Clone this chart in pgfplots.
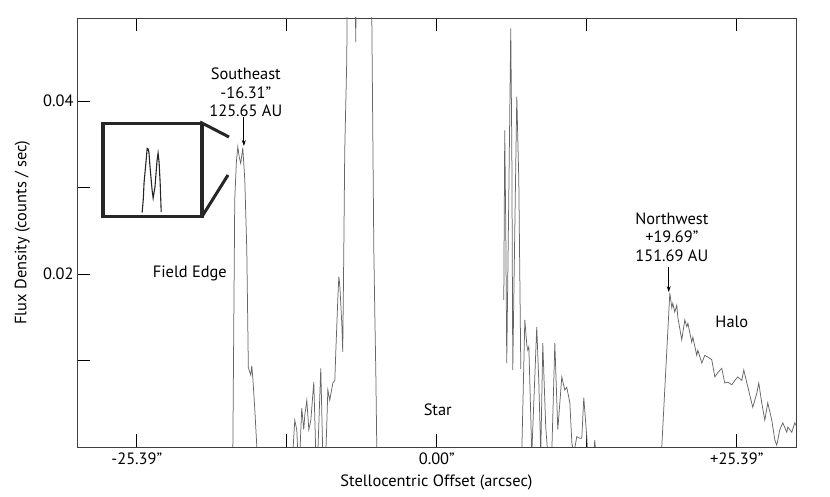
\documentclass[border=0pt]{standalone}
\usepackage{fontspec}
\setmainfont{PT Sans}
\usepackage{pgfplots}
\pgfplotsset{compat=1.18}
\usetikzlibrary{arrows.meta}

% radial flux profile through the disk
\pgfplotstableread{
x y
-30.45 -0.002
-17.30 -0.002
-17.26 0.0
-17.10 0.0286
-16.96 0.0330
-16.84 0.0347
-16.72 0.0335
-16.59 0.0328
-16.42 0.0346
-16.25 0.0309
-16.08 0.0228
-15.99 0.0135
-15.95 0.0092
-15.74 0.0083
-15.66 0.0094
-15.57 0.0080
-15.40 0.0043
-15.23 0.0
-15.20 -0.002
-12.25 -0.002
-12.19 -0.0008
-12.02 0.0031
-11.85 0.0020
-11.76 -0.0008
-11.59 -0.0008
-11.43 0.0045
-11.26 0.0020
-11.17 0.0037
-11.00 0.0054
-10.83 0.0020
-10.66 0.0031
-10.41 0.0075
-10.24 -0.0008
-10.07 -0.0008
-9.82 0.0091
-9.65 -0.0008
-9.39 -0.0008
-9.22 0.0066
-9.06 0.0054
-8.80 0.0074
-8.63 0.0077
-8.55 0.0109
-8.38 0.0170
-8.29 0.0197
-8.21 0.0187
-8.04 0.0143
-7.96 0.0110
-7.87 0.0228
-7.79 0.0343
-7.62 0.0447
-7.53 0.0600
-6.94 0.0600
-6.86 0.0468
-6.77 0.0600
-5.59 0.0600
-5.50 0.0496
-5.33 0.0228
-5.25 0.0158
-5.16 0.0086
-5.08 0.0
-5.00 -0.002
5.60 nan
5.67 0.0170
5.75 0.0366
5.84 0.0250
5.92 0.0097
6.09 0.0286
6.26 0.0484
6.35 0.0343
6.43 0.0089
6.60 0.0250
6.77 0.0405
6.94 0.0309
7.11 0.0090
7.13 nan
7.15 -0.002
7.19 -0.0008
7.45 0.0147
7.62 0.0118
7.70 0.0112
7.79 0.0116
8.04 -0.0008
8.46 0.0139
8.63 0.0077
8.80 -0.0008
8.97 0.0120
9.22 0.0023
9.39 -0.0008
9.73 -0.0008
9.99 0.0120
10.24 0.0020
10.58 0.0081
10.83 0.0066
11.00 0.0069
11.26 0.0051
11.43 0.0005
11.59 -0.0008
11.85 0.0012
12.10 0.0010
12.27 0.0010
12.44 0.0057
12.69 0.0012
12.78 -0.0008
13.29 -0.0008
13.37 0.0008
13.46 -0.0008
13.50 -0.002
19.00 -0.002
19.04 0.0
19.72 0.0178
19.89 0.0161
19.97 0.0166
20.14 0.0156
20.31 0.0164
20.40 0.0150
20.73 0.0124
20.99 0.0147
21.16 0.0139
21.25 0.0143
21.58 0.0121
21.67 0.0127
22.00 0.0106
22.09 0.0112
22.43 0.0097
22.68 0.0106
22.93 0.0104
23.27 0.0101
23.53 0.0081
23.78 0.0086
24.12 0.0091
24.37 0.0074
24.63 0.0075
24.97 0.0072
25.22 0.0077
25.47 0.0081
25.81 0.0077
25.98 0.0089
26.24 0.0074
26.49 0.0060
26.74 0.0046
27.08 0.0062
27.25 0.0074
27.50 0.0051
27.76 0.0031
28.01 0.0051
28.35 0.0031
28.61 0.0008
28.77 0.0002
29.03 0.0020
29.28 0.0028
29.62 0.0017
29.71 0.0023
30.04 0.0017
30.30 0.0028
30.40 0.0025
}\profile

% magnified southeast peak for the inset
\pgfplotstableread{
x y
-16.995 0.0250
-16.95 0.0270
-16.92 0.0295
-16.84 0.0329
-16.80 0.0347
-16.76 0.0346
-16.73 0.0340
-16.69 0.0319
-16.61 0.0284
-16.57 0.0272
-16.50 0.0289
-16.42 0.0329
-16.38 0.0340
-16.34 0.0325
-16.30 0.0295
-16.26 0.0251
}\insetpeak

\begin{document}
\begin{tikzpicture}[font=\fontsize{16.4}{18.5}\selectfont]
\path[use as bounding box] (-77pt,-50pt) rectangle (753pt,447pt);
\begin{axis}[
    at={(0pt,0pt)}, anchor=south west,
    scale only axis,
    width=719pt, height=429pt,
    xmin=-30.45, xmax=30.4,
    ymin=0, ymax=0.0496,
    xtick={-25.39,-12.695,0,12.695,25.39},
    xticklabels={-25.39'',,0.00'',,+25.39''},
    ytick={0.01,0.02,0.03,0.04},
    yticklabels={,0.02,,0.04},
    scaled y ticks=false,
    xtick pos=both, ytick pos=left,
    tick align=inside,
    major tick length=13pt,
    tick style={black, line width=0.9pt},
    axis line style={black!75, line width=0.8pt},
    xticklabel style={yshift=-2pt},
    xlabel={Stellocentric Offset (arcsec)},
    ylabel={Flux Density (counts / sec)},
    xlabel style={at={(axis description cs:0.5,-0.082)}, anchor=center},
    ylabel style={at={(axis description cs:-0.076,0.5)}, anchor=center},
    unbounded coords=jump,
]
\addplot[black!60, line width=0.75pt] table[x=x, y=y] {\profile};

\node[align=center] at (axis cs:-16.16,0.0410) {Southeast\\-16.31''\\125.65 AU};
\draw[-{Stealth[length=6pt,width=4pt]}, line width=0.8pt] (axis cs:-16.33,0.0381) -- (axis cs:-16.33,0.0348);
\node[align=center] at (axis cs:19.89,0.0243) {Northwest\\+19.69''\\151.69 AU};
\draw[-{Stealth[length=6pt,width=4pt]}, line width=0.8pt] (axis cs:19.63,0.0208) -- (axis cs:19.63,0.0179);
\node at (axis cs:-20.90,0.0201) {Field Edge};
\node at (axis cs:0.08,0.0043) {Star};
\node at (axis cs:24.97,0.0145) {Halo};
\end{axis}

\begin{axis}[
    at={(26pt,230.5pt)}, anchor=south west,
    scale only axis,
    width=99pt, height=93pt,
    xmin=-18.50, xmax=-14.69,
    ymin=0.02443, ymax=0.03845,
    xtick=\empty, ytick=\empty,
    axis line style={black!85, line width=3.5pt},
]
\addplot[black!85, line width=1.1pt] table[x=x, y=y] {\insetpeak};
\end{axis}
\draw[black!85, line width=3pt] (123pt,325pt) -- (152pt,310pt);
\draw[black!85, line width=3pt] (126pt,232pt) -- (151pt,272pt);
\end{tikzpicture}
\end{document}
